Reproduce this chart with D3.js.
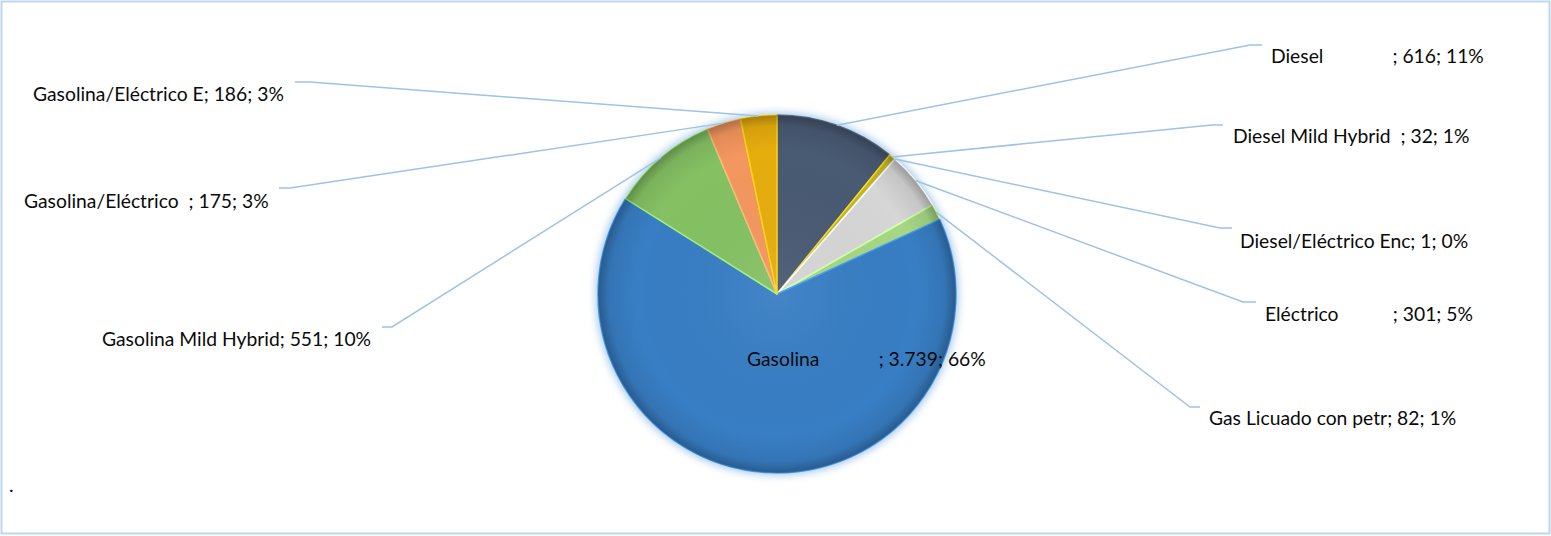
<!DOCTYPE html>
<html>
<head>
<meta charset="utf-8">
<script src="https://cdn.jsdelivr.net/npm/d3@7/dist/d3.min.js"></script>
<style>
  body { margin: 0; background: #fff; }
  svg text { font-family: Lato, "Open Sans", sans-serif; font-size: 19.3px; fill: #0a0a0a; white-space: pre; }
</style>
</head>
<body>
<div id="chart"></div>
<script>
// category names (padded to 20 characters, as in the source data)
var categories = [
    'Diesel              ',
    'Diesel Mild Hybrid  ',
    'Diesel/Eléctrico Enc',
    'Eléctrico           ',
    'Gas Licuado con petr',
    'Gasolina            ',
    'Gasolina Mild Hybrid',
    'Gasolina/Eléctrico  ',
    'Gasolina/Eléctrico E'
];
var counts = [616, 32, 1, 301, 82, 3739, 551, 175, 186];
var percentLabels = ['11%', '1%', '0%', '5%', '1%', '66%', '10%', '3%', '3%'];
var countLabels = ['616', '32', '1', '301', '82', '3.739', '551', '175', '186'];
var sliceColors = ['#4a5a73', '#c9b31c', '#6fa8dc', '#d6d6d6', '#a6d784',
                   '#377ec4', '#85c163', '#f4975f', '#e6ad0c'];

// label placement: text start, baseline, leader elbow and end (null = inside)
var labelLayout = [
    { x: 1271, y: 63,  elbow: [1250, 45],  end: [1262, 45] },
    { x: 1233, y: 143, elbow: [1212, 125], end: [1223, 125] },
    { x: 1240, y: 248, elbow: [1220, 228], end: [1232, 228] },
    { x: 1265, y: 321, elbow: [1243, 302], end: [1256, 302] },
    { x: 1209, y: 425, elbow: [1190, 407], end: [1200, 407] },
    { x: 747,  y: 366, elbow: null, end: null },
    { x: 102,  y: 346, elbow: [392, 327],  end: [382, 327] },
    { x: 24,   y: 208, elbow: [290, 188],  end: [279, 188] },
    { x: 33,   y: 101, elbow: [310, 82],   end: [295, 82] }
];

var W = 1551, H = 536;
var cx = 777, cy = 294, radius = 179;

var svg = d3.select('#chart').append('svg')
    .attr('width', W)
    .attr('height', H);

// chart border
svg.append('rect')
    .attr('x', 1.5).attr('y', 1.5)
    .attr('width', W - 3).attr('height', H - 4)
    .attr('fill', '#fff')
    .attr('stroke', '#bdd7ee')
    .attr('stroke-width', 2);

var defs = svg.append('defs');

// soft light-blue glow around the pie
var glow = defs.append('filter').attr('id', 'glow')
    .attr('x', '-20%').attr('y', '-20%').attr('width', '140%').attr('height', '140%');
glow.append('feMorphology').attr('in', 'SourceAlpha').attr('operator', 'dilate').attr('radius', 1).attr('result', 'fat');
glow.append('feGaussianBlur').attr('in', 'fat').attr('stdDeviation', 4).attr('result', 'blur');
glow.append('feFlood').attr('flood-color', '#9cc3e6').attr('flood-opacity', 1);
glow.append('feComposite').attr('in2', 'blur').attr('operator', 'in').attr('result', 'glowColor');
var merge = glow.append('feMerge');
merge.append('feMergeNode').attr('in', 'glowColor');
merge.append('feMergeNode').attr('in', 'SourceGraphic');

// rim shading (bevel look)
var rim = defs.append('radialGradient').attr('id', 'rim')
    .attr('gradientUnits', 'userSpaceOnUse')
    .attr('cx', 0).attr('cy', 0).attr('r', radius);
rim.append('stop').attr('offset', '0%').attr('stop-color', '#fff').attr('stop-opacity', 0.06);
rim.append('stop').attr('offset', '80%').attr('stop-color', '#000').attr('stop-opacity', 0);
rim.append('stop').attr('offset', '94%').attr('stop-color', '#000').attr('stop-opacity', 0.08);
rim.append('stop').attr('offset', '100%').attr('stop-color', '#000').attr('stop-opacity', 0.28);

var data = categories.map(function(c, i) {
    return { name: c, count: counts[i], countLabel: countLabels[i], pct: percentLabels[i], color: sliceColors[i], layout: labelLayout[i] };
});

var pie = d3.pie().sort(null).value(d => d.count);
var arcs = pie(data);

var arc = d3.arc().innerRadius(0).outerRadius(radius);

var g = svg.append('g')
    .attr('transform', `translate(${cx},${cy})`);

var pieGroup = g.append('g').attr('filter', 'url(#glow)');

pieGroup.selectAll('.slice')
    .data(arcs)
    .enter()
    .append('path')
    .attr('class', 'slice')
    .attr('d', arc)
    .attr('fill', d => d.data.color)
    .attr('stroke', d => d3.color(d.data.color).brighter(0.6))
    .attr('stroke-width', 1.5)
    .attr('stroke-linejoin', 'round');

// shading overlay
g.selectAll('.shade')
    .data(arcs)
    .enter()
    .append('path')
    .attr('class', 'shade')
    .attr('d', arc)
    .attr('fill', 'url(#rim)')
    .attr('pointer-events', 'none');

// leader lines
var leaderArc = d3.arc().innerRadius(radius).outerRadius(radius);
var line = d3.line();

svg.selectAll('.leader')
    .data(arcs.filter(d => d.data.layout.end))
    .enter()
    .append('path')
    .attr('class', 'leader')
    .attr('fill', 'none')
    .attr('stroke', '#9dc3e6')
    .attr('stroke-width', 1.5)
    .attr('d', function(d) {
        var p = leaderArc.centroid(d);
        return line([[cx + p[0], cy + p[1]], d.data.layout.elbow, d.data.layout.end]);
    });

// labels
svg.selectAll('.slice-label')
    .data(arcs)
    .enter()
    .append('text')
    .attr('class', 'slice-label')
    .attr('x', d => d.data.layout.x)
    .attr('y', d => d.data.layout.y)
    .text(d => `${d.data.name}; ${d.data.countLabel}; ${d.data.pct}`);

// stray dot in the lower left corner
svg.append('text')
    .attr('x', 9)
    .attr('y', 492)
    .text('.');
</script>
</body>
</html>
